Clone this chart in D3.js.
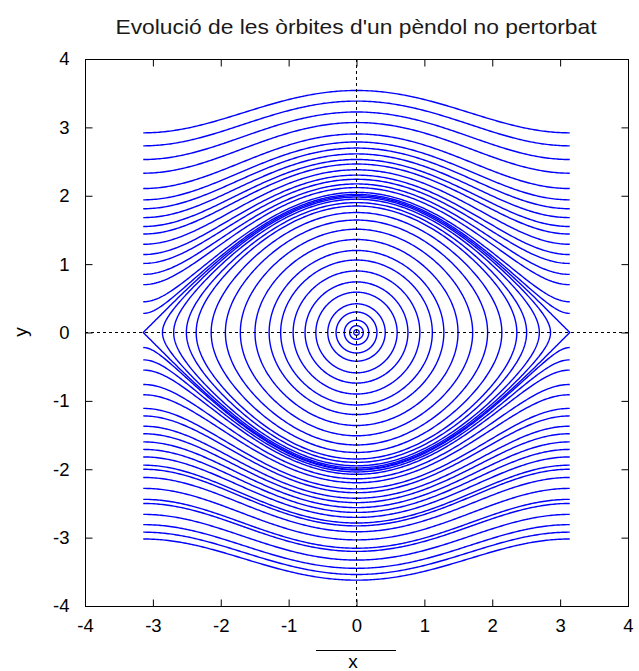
<!DOCTYPE html>
<html>
<head>
<meta charset="utf-8">
<script src="https://cdn.jsdelivr.net/npm/d3@7"></script>
<style>
  html, body { margin: 0; padding: 0; background: #fff; }
  svg { display: block; font-family: "Liberation Sans", Arial, sans-serif; }
</style>
</head>
<body>
<svg id="chart" width="639" height="671"></svg>
<script>
// Phase portrait of the unperturbed pendulum: y^2/2 - cos(x) = E.
const titleText = "Evolució de les òrbites d'un pèndol no pertorbat";
const xTicks = [-4, -3, -2, -1, 0, 1, 2, 3, 4];
const yTicks = [-4, -3, -2, -1, 0, 1, 2, 3, 4];

// Closed (libration) orbits: velocity y when crossing x = 0.
const closedPeakVelocity = [0.04, 0.10, 0.18, 0.30, 0.42, 0.59, 0.74, 0.90, 1.06, 1.20,
                            1.36, 1.51, 1.645, 1.755, 1.85, 1.90, 1.95, 1.98, 2.0];

// Open (rotation) orbits above the separatrix: velocity at x = ±π.
const upperEdgeVelocity = [2.92, 2.73, 2.53, 2.33, 2.105, 1.94, 1.81, 1.68, 1.55, 1.44,
                           1.29, 1.14, 1.01, 0.85, 0.70, 0.45, 0.28];

// Open (rotation) orbits below the separatrix: velocity at x = ±π.
const lowerEdgeVelocity = [-0.22, -0.40, -0.55, -0.76, -0.91, -1.11, -1.22, -1.37, -1.48,
                           -1.60, -1.71, -1.82, -1.94, -2.00, -2.12, -2.28, -2.44, -2.50,
                           -2.66, -2.81, -2.92, -3.02];

const svg = d3.select("#chart");
const plotLeft = 85, plotRight = 628, plotTop = 59, plotBottom = 606;

const x = d3.scaleLinear().domain([-4, 4]).range([plotLeft, plotRight]);
const y = d3.scaleLinear().domain([-4, 4]).range([plotBottom, plotTop]);

const line = d3.line().x(d => x(d[0])).y(d => y(d[1]));

// Orbit geometry from energy conservation
function openOrbit(v) {
  const n = 240, pts = [];
  const s = v < 0 ? -1 : 1;
  for (let i = 0; i <= n; i++) {
    const xx = -Math.PI + 2 * Math.PI * i / n;
    pts.push([xx, s * Math.sqrt(v * v + 2 + 2 * Math.cos(xx))]);
  }
  return pts;
}
function closedOrbit(v0) {
  const a = Math.acos(Math.max(-1, 1 - v0 * v0 / 2));
  const n = 200, upper = [];
  for (let i = 0; i <= n; i++) {
    const phi = -Math.PI / 2 + Math.PI * i / n;
    const xx = a * Math.sin(phi);
    const yy = Math.sqrt(Math.max(0, v0 * v0 - 2 * (1 - Math.cos(xx))));
    upper.push([xx, yy]);
  }
  const lower = upper.slice().reverse().map(p => [p[0], -p[1]]);
  return upper.concat(lower);
}

const orbits = svg.append("g")
  .attr("fill", "none")
  .attr("stroke", "#0000ff")
  .attr("stroke-width", 1.4);

orbits.selectAll("path.closed")
  .data(closedPeakVelocity)
  .join("path")
  .attr("class", "closed")
  .attr("d", v => line(closedOrbit(v)) + "Z");

orbits.selectAll("path.upper")
  .data(upperEdgeVelocity)
  .join("path")
  .attr("class", "upper")
  .attr("d", v => line(openOrbit(v)));

orbits.selectAll("path.lower")
  .data(lowerEdgeVelocity)
  .join("path")
  .attr("class", "lower")
  .attr("d", v => line(openOrbit(v)));

// Zero axes (dotted)
const zero = svg.append("g")
  .attr("stroke", "#000")
  .attr("stroke-width", 1)
  .attr("stroke-dasharray", "3,3");
zero.append("line")
  .attr("x1", x(0)).attr("x2", x(0))
  .attr("y1", y(4)).attr("y2", y(-4));
zero.append("line")
  .attr("x1", x(-4)).attr("x2", x(4))
  .attr("y1", y(0)).attr("y2", y(0));

// Frame and inward ticks on all sides
const tickLen = 7;
svg.append("rect")
  .attr("x", plotLeft + 0.5).attr("y", plotTop + 0.5)
  .attr("width", plotRight - plotLeft).attr("height", plotBottom - plotTop)
  .attr("fill", "none").attr("stroke", "#000").attr("stroke-width", 1);

const fmt = d => d < 0 ? "-" + Math.abs(d) : String(d);

svg.append("g")
  .attr("transform", `translate(0,${plotBottom + 0.5})`)
  .call(d3.axisBottom(x).tickValues(xTicks).tickSizeInner(-tickLen).tickSizeOuter(0).tickPadding(12).tickFormat(fmt))
  .call(g => g.select(".domain").remove());
svg.append("g")
  .attr("transform", `translate(0,${plotTop + 0.5})`)
  .call(d3.axisTop(x).tickValues(xTicks).tickSizeInner(-tickLen).tickSizeOuter(0).tickFormat(""))
  .call(g => g.select(".domain").remove());
svg.append("g")
  .attr("transform", `translate(${plotLeft + 0.5},0)`)
  .call(d3.axisLeft(y).tickValues(yTicks).tickSizeInner(-tickLen).tickSizeOuter(0).tickPadding(16).tickFormat(fmt))
  .call(g => g.select(".domain").remove());
svg.append("g")
  .attr("transform", `translate(${plotRight + 0.5},0)`)
  .call(d3.axisRight(y).tickValues(yTicks).tickSizeInner(-tickLen).tickSizeOuter(0).tickFormat(""))
  .call(g => g.select(".domain").remove());

svg.selectAll(".tick text")
  .attr("font-family", "'Liberation Sans', Arial, sans-serif")
  .attr("font-size", 18.5)
  .attr("fill", "#000");
svg.selectAll(".tick line").attr("stroke", "#000");

// Title and axis labels
svg.append("text")
  .attr("x", 356).attr("y", 34)
  .attr("text-anchor", "middle")
  .attr("font-size", 21)
  .attr("textLength", 481)
  .attr("lengthAdjust", "spacingAndGlyphs")
  .attr("fill", "#1a1a1a")
  .text(titleText);

svg.append("line")
  .attr("x1", 316).attr("x2", 396)
  .attr("y1", 650.5).attr("y2", 650.5)
  .attr("stroke", "#000").attr("stroke-width", 1);

svg.append("text")
  .attr("x", 353).attr("y", 668)
  .attr("text-anchor", "middle")
  .attr("font-size", 19)
  .text("x");

svg.append("text")
  .attr("transform", "translate(27,332) rotate(-90)")
  .attr("text-anchor", "middle")
  .attr("font-size", 19)
  .text("y");
</script>
</body>
</html>
